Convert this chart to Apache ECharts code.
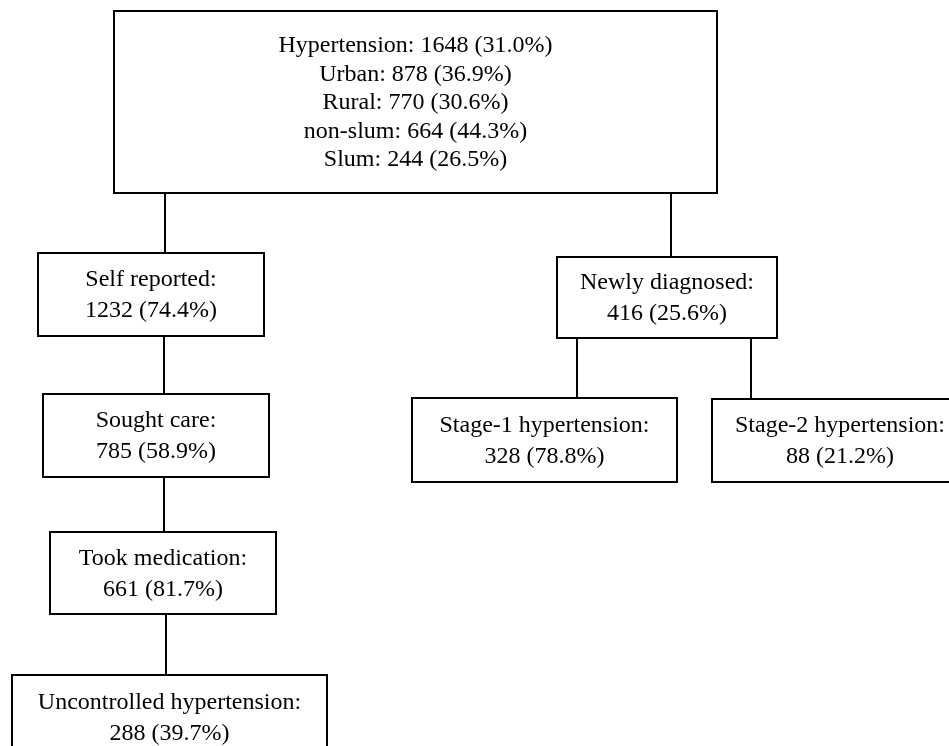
<!DOCTYPE html>
<html>
<head>
<meta charset="utf-8">
<title>Hypertension flow</title>
<script src="https://cdn.jsdelivr.net/npm/echarts@6/dist/echarts.min.js"></script>
<style>
  html, body { margin: 0; padding: 0; background: #fff; }
  #main { width: 949px; height: 746px; }
</style>
</head>
<body>
<div id="main"></div>
<script>
// chart data
var nodeNames = ['Hypertension', 'Self reported', 'Sought care', 'Took medication',
  'Uncontrolled hypertension', 'Newly diagnosed', 'Stage-1 hypertension', 'Stage-2 hypertension'];
var nodeCounts = [1648, 1232, 785, 661, 288, 416, 328, 88];
var nodePcts = ['31.0', '74.4', '58.9', '81.7', '39.7', '25.6', '78.8', '21.2'];

var groupNames = ['Urban', 'Rural', 'non-slum', 'Slum'];
var groupCounts = [878, 770, 664, 244];
var groupPcts = ['36.9', '30.6', '44.3', '26.5'];

// parent -> child
var links = [[0, 1], [1, 2], [2, 3], [3, 4], [0, 5], [5, 6], [5, 7]];

// layout (page units): box edges and connector x
var boxLeft = [114, 38, 43, 50, 12, 557, 412, 712];
var boxRight = [717, 264, 269, 276, 327, 777, 677, 968];
var boxTop = [11, 253, 394, 532, 675, 257, 398, 399];
var boxBottom = [193, 336, 477, 614, 759, 338, 482, 482];
var linkX = [165, 164, 164, 166, 671, 577, 751];

function nodeText(i) {
  if (i === 0) {
    var lines = [nodeNames[0] + ': ' + nodeCounts[0] + ' (' + nodePcts[0] + '%)'];
    for (var k = 0; k < groupNames.length; k++) {
      lines.push(groupNames[k] + ': ' + groupCounts[k] + ' (' + groupPcts[k] + '%)');
    }
    return lines.join('\n');
  }
  return nodeNames[i] + ':\n' + nodeCounts[i] + ' (' + nodePcts[i] + '%)';
}

var chart = echarts.init(document.getElementById('main'), null, { renderer: 'canvas' });

var option = {
  backgroundColor: '#fff',
  animation: false,
  grid: { left: 0, right: 0, top: 0, bottom: 0 },
  xAxis: { type: 'value', min: 0, max: 949, show: false },
  yAxis: { type: 'value', min: 0, max: 746, inverse: true, show: false },
  series: [{
    type: 'custom',
    name: 'links',
    clip: false,
    data: links.map(function (l, i) { return [i]; }),
    renderItem: function (params, api) {
      var i = api.value(0);
      var p = links[i][0], c = links[i][1];
      var a = api.coord([linkX[i], boxBottom[p]]);
      var b = api.coord([linkX[i], boxTop[c]]);
      return {
        type: 'line',
        shape: { x1: a[0], y1: a[1], x2: b[0], y2: b[1] },
        style: { stroke: '#000', lineWidth: 2 }
      };
    }
  }, {
    type: 'custom',
    name: 'boxes',
    clip: false,
    data: nodeNames.map(function (n, i) { return [i]; }),
    renderItem: function (params, api) {
      var i = api.value(0);
      var tl = api.coord([boxLeft[i], boxTop[i]]);
      var br = api.coord([boxRight[i], boxBottom[i]]);
      return {
        type: 'group',
        children: [{
          type: 'rect',
          shape: { x: tl[0], y: tl[1], width: br[0] - tl[0], height: br[1] - tl[1] },
          style: { fill: '#fff', stroke: '#000', lineWidth: 2 }
        }, {
          type: 'text',
          style: {
            text: nodeText(i),
            x: (tl[0] + br[0]) / 2,
            y: (tl[1] + br[1]) / 2 + 1,
            align: 'center',
            verticalAlign: 'middle',
            fontFamily: '"Liberation Serif", "Times New Roman", serif',
            fontSize: 24,
            lineHeight: i === 0 ? 28.5 : 31,
            fill: '#000'
          }
        }]
      };
    }
  }]
};

chart.setOption(option);
</script>
</body>
</html>
